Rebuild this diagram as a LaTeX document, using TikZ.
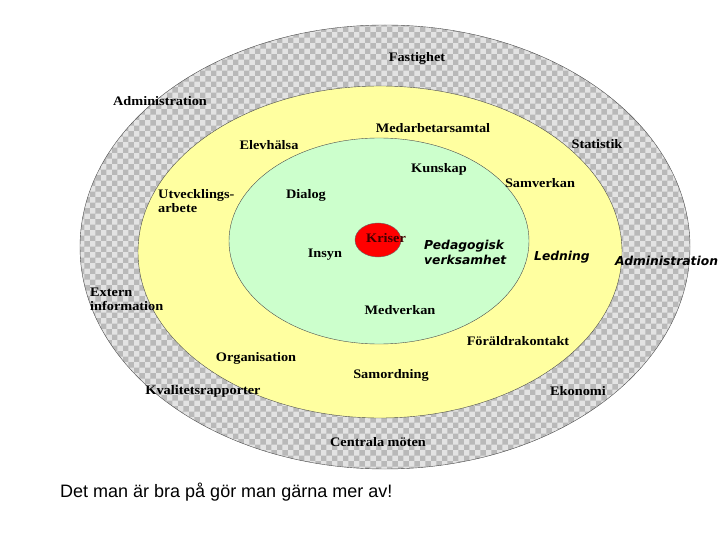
\documentclass[tikz,border=0pt]{standalone}
\usepackage{fontspec}
\setmainfont{Liberation Serif}[FakeStretch=1.1]
\setsansfont{Liberation Sans}
\newfontfamily\handfont{DejaVu Sans}
\usetikzlibrary{patterns}
\definecolor{ringyellow}{RGB}{255,255,160}
\definecolor{coregreen}{RGB}{204,255,204}

\begin{document}
\begin{tikzpicture}[x=1pt, y=-1pt,
  lbl/.style={font=\bfseries\fontsize{13}{14}\selectfont, inner sep=0pt},
  twoline/.style={lbl, align=left, anchor=west, font=\bfseries\fontsize{13}{14}\selectfont},
  hand/.style={font=\handfont\bfseries\itshape\fontsize{12.3}{15}\selectfont, align=left, inner sep=0pt}]
\useasboundingbox (0,0) rectangle (720,540);
% rings
\fill[gray!22] (385,247) ellipse [x radius=305, y radius=222];
\fill[pattern=checkerboard, pattern color=gray!55] (385,247) ellipse [x radius=305, y radius=222];
\draw[black!70, thin] (385,247) ellipse [x radius=305, y radius=222];
\filldraw[fill=ringyellow, draw=black!70, thin] (380,252) ellipse [x radius=242, y radius=166];
\filldraw[fill=coregreen, draw=black!70, thin] (379,241) ellipse [x radius=150, y radius=103];
\filldraw[fill=red, draw=black!60, thin] (378,240) ellipse [x radius=23, y radius=17];

% outer ring
\node[lbl] (fast) at (417,58) {Fastighet};
\node[lbl] (admin) at (160,101) {Administration};
\node[lbl] (stat) at (597,144) {Statistik};
\node[twoline] (extern) at (90,299) {Extern\\information};
\node[lbl] (kval) at (203,391) {Kvalitetsrapporter};
\node[lbl] (eko) at (578,391) {Ekonomi};
\node[lbl] (central) at (378,442) {Centrala möten};
\node[hand, anchor=west] (admin2) at (615,261) {Administration};

% middle ring
\node[lbl] (medarb) at (433,128) {Medarbetarsamtal};
\node[lbl] (elev) at (269,145) {Elevhälsa};
\node[lbl] (samv) at (540,183) {Samverkan};
\node[twoline] (utv) at (158,201) {Utvecklings-\\arbete};
\node[hand] (led) at (562,257) {Ledning};
\node[lbl] (foral) at (518,341) {Föräldrakontakt};
\node[lbl] (org) at (256,358) {Organisation};
\node[lbl] (samord) at (391,375) {Samordning};

% core
\node[lbl] (kunskap) at (439,169) {Kunskap};
\node[lbl] (dialog) at (306,195) {Dialog};
\node[lbl] (insyn) at (325,255) {Insyn};
\node[lbl, text=black!75!red] (kriser) at (386,238) {Kriser};
\node[hand, anchor=west] (peda) at (424,252) {Pedagogisk\\verksamhet};
\node[lbl] (medv) at (400,310) {Medverkan};

\node[font=\sffamily\fontsize{18}{20}\selectfont, anchor=west, inner sep=0pt] (motto) at (60,492) {Det man är bra på gör man gärna mer av!};
\end{tikzpicture}
\end{document}
